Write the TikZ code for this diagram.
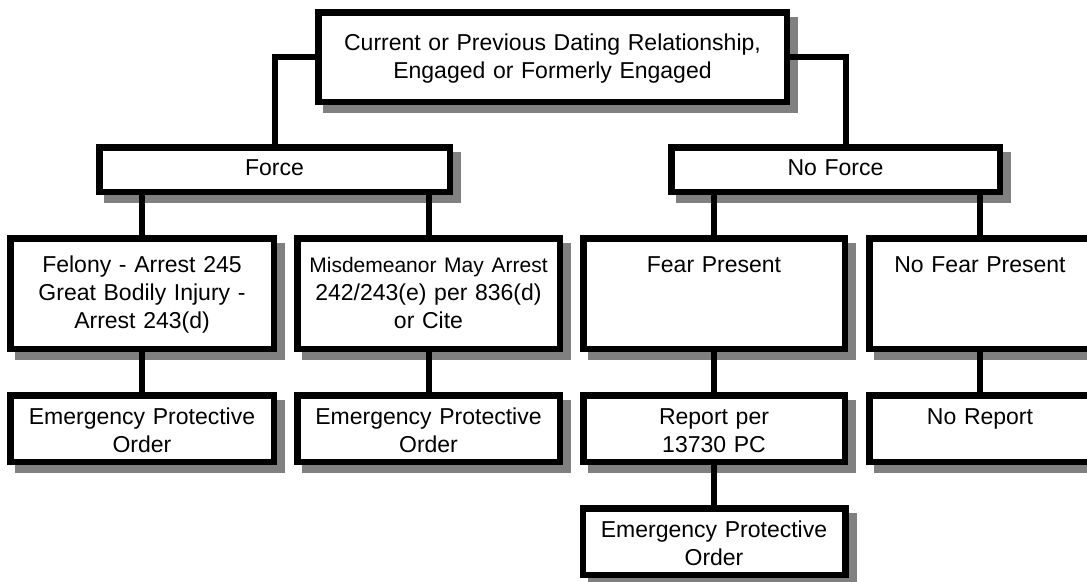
\documentclass[tikz,border=0pt]{standalone}
\usepackage{fontspec}
\setmainfont{Liberation Sans}
\usetikzlibrary{shadows}
\definecolor{shadegray}{RGB}{128,128,128}
\tikzset{
  box/.style={draw=black, line width=6.5pt, fill=white, inner sep=0pt, align=center,
    font=\fontsize{23}{28}\selectfont,
    drop shadow={shadow xshift=8pt, shadow yshift=-8pt, fill=shadegray, draw=shadegray, line width=6.5pt, opacity=1}},
  headbox/.style={box, text height=37.75pt, text depth=51.75pt},
  forcebox/.style={box, text height=27.75pt, text depth=16.75pt},
  casebox/.style={box, text height=33.75pt, text depth=76.75pt},
  orderbox/.style={box, text height=28.75pt, text depth=37.75pt},
  link/.style={line width=6pt, black}
}
\begin{document}
\begin{tikzpicture}[x=1pt, y=-1pt]
\useasboundingbox (0,0) rectangle (1087,581);
%\draw[step=50,gray,very thin] (0,0) grid (1087,581); %background grid
\node[headbox, text width=468.5pt] (rel) at (552.5,57) {Current or Previous Dating Relationship,\\Engaged or Formerly Engaged};
\node[forcebox, text width=350.5pt] (force) at (274.5,169.5) {Force};
\node[forcebox, text width=328.5pt] (noforce) at (835.5,169.5) {No Force};
\node[casebox, text width=263.5pt] (felony) at (142,293.5) {Felony - Arrest 245\\Great Bodily Injury -\\Arrest 243(d)};
\node[casebox, text width=262.5pt] (misd) at (428.5,293.5) {{\fontsize{21}{28}\selectfont Misdemeanor May Arrest}\\242/243(e) per 836(d)\\or Cite};
\node[casebox, text width=261.5pt] (fear) at (714,293.5) {Fear Present};
\node[casebox, text width=221.5pt] (nofear) at (980,293.5) {No Fear Present};
\node[orderbox, text width=263.5pt] (epoA) at (142,428.5) {Emergency Protective\\Order};
\node[orderbox, text width=262.5pt] (epoB) at (428.5,428.5) {Emergency Protective\\Order};
\node[orderbox, text width=261.5pt] (report) at (714,428.5) {Report per\\13730 PC};
\node[orderbox, text width=221.5pt] (noreport) at (980,428.5) {No Report};
\node[orderbox, text width=262.5pt] (epoC) at (714,541.5) {Emergency Protective\\Order};
\draw[link] (rel.west) -| (force.north);
\draw[link] (rel.east) -| ([xshift=10pt]noforce.north);
\draw[link] (force.south -| felony.north) -- (felony.north);
\draw[link] (force.south -| misd.north) -- (misd.north);
\draw[link] (noforce.south -| fear.north) -- (fear.north);
\draw[link] (noforce.south -| nofear.north) -- (nofear.north);
\draw[link] (felony) -- (epoA);
\draw[link] (misd) -- (epoB);
\draw[link] (fear) -- (report);
\draw[link] (nofear) -- (noreport);
\draw[link] (report) -- (epoC);
\end{tikzpicture}
\end{document}
